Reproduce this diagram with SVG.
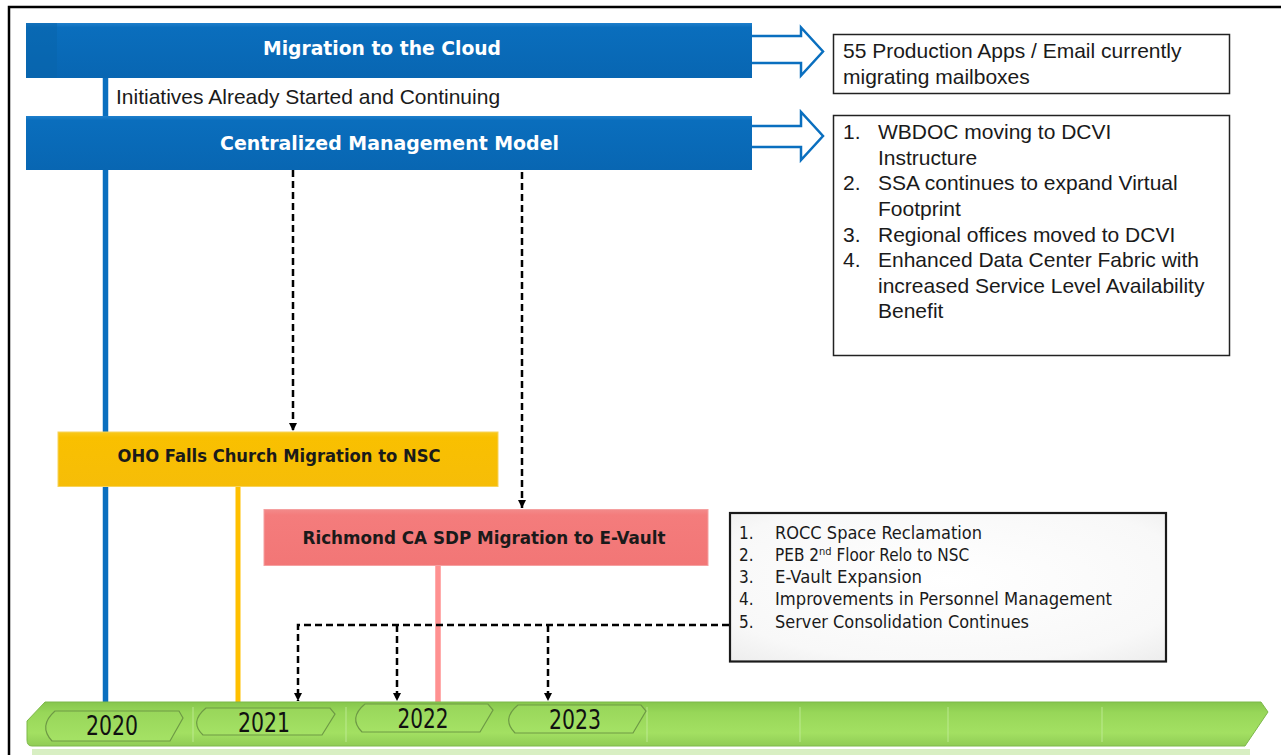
<svg xmlns="http://www.w3.org/2000/svg" width="1281" height="755" viewBox="0 0 1281 755">
<style>
.bartxt{font-family:"DejaVu Sans Condensed","DejaVu Sans",sans-serif;font-weight:bold;fill:#ffffff;font-size:19px;text-anchor:middle}
.boxtxt{font-family:"DejaVu Sans Condensed","DejaVu Sans",sans-serif;font-weight:bold;fill:#1a1a1a;font-size:18px;text-anchor:middle}
.arial{font-family:"Liberation Sans",Arial,sans-serif;font-size:21px;fill:#1a1a1a}
.tah{font-family:"DejaVu Sans Condensed","DejaVu Sans",sans-serif;font-size:17px;fill:#1a1a1a}
.year{font-family:"DejaVu Sans Condensed","DejaVu Sans",sans-serif;font-size:26px;fill:#111111;text-anchor:middle}
.note{fill:#ffffff;stroke:#222222;stroke-width:1.5}
.hollow{fill:#ffffff;stroke:#0A6FBF;stroke-width:2.5;stroke-linejoin:miter}
.dash{fill:none;stroke:#000000;stroke-width:2.5;stroke-dasharray:7,4}
.tab{fill:url(#tabg);stroke:#6E9A45;stroke-width:1.2}
.div{stroke:#C5EE9E;stroke-width:1;opacity:0.8}
</style>
<defs>
<linearGradient id="blueg" x1="0" y1="0" x2="0" y2="1">
<stop offset="0" stop-color="#1E7FCC"/>
<stop offset="0.08" stop-color="#0A6EBD"/>
<stop offset="1" stop-color="#0866B2"/>
</linearGradient>
<linearGradient id="yelg" x1="0" y1="0" x2="0" y2="1">
<stop offset="0" stop-color="#F8C81C"/>
<stop offset="0.1" stop-color="#F9C000"/>
<stop offset="1" stop-color="#F6BD08"/>
</linearGradient>
<linearGradient id="pinkg" x1="0" y1="0" x2="0" y2="1">
<stop offset="0" stop-color="#F38A8A"/>
<stop offset="0.1" stop-color="#F47C7C"/>
<stop offset="1" stop-color="#F27676"/>
</linearGradient>
<linearGradient id="greeng" x1="0" y1="0" x2="0" y2="1">
<stop offset="0" stop-color="#86C64C"/>
<stop offset="0.25" stop-color="#98D759"/>
<stop offset="0.7" stop-color="#A3E062"/>
<stop offset="1" stop-color="#90CC55"/>
</linearGradient>
<linearGradient id="tabg" x1="0" y1="0" x2="0" y2="1">
<stop offset="0" stop-color="#98D65A"/>
<stop offset="1" stop-color="#A5E265"/>
</linearGradient>
<radialGradient id="grayg" cx="0.5" cy="0.45" r="0.75">
<stop offset="0" stop-color="#FFFFFF"/>
<stop offset="0.75" stop-color="#F8F8F8"/>
<stop offset="1" stop-color="#ECECEC"/>
</radialGradient>
<marker id="ah" markerWidth="8" markerHeight="8" refX="8" refY="4" orient="auto" markerUnits="userSpaceOnUse" viewBox="0 0 8 8">
<path d="M0,0 L8,4 L0,8 Z" fill="#000000"/>
</marker>
</defs>

<rect x="0" y="0" width="1281" height="755" fill="#ffffff"/>
<!-- frame -->
<path d="M1281,7 L9,7 L9,755" fill="none" stroke="#000000" stroke-width="2.5"/>

<!-- vertical stems -->
<g id="stems">
<line x1="105.5" y1="78" x2="105.5" y2="116" stroke="#0A6FBF" stroke-width="5.5"/>
<line x1="105.5" y1="169" x2="105.5" y2="703" stroke="#0A6FBF" stroke-width="5.5"/>
<line x1="238" y1="486" x2="238" y2="703" stroke="#FFC000" stroke-width="5"/>
<line x1="438" y1="565" x2="438" y2="703" stroke="#FF9191" stroke-width="5.5"/>
</g>

<!-- timeline bar -->
<g id="timeline">
<rect x="32" y="749" width="1218" height="6" fill="#D8EFC3"/>
<path d="M45,702 L1261,702 L1268,712 L1245,746 L32,746 Q27,746 27,740 L27,721 Z" fill="url(#greeng)" stroke="#7DB84A" stroke-width="1"/>
<line class="div" x1="193" y1="707" x2="193" y2="742"/>
<line class="div" x1="346" y1="707" x2="346" y2="742"/>
<line class="div" x1="647" y1="707" x2="647" y2="742"/>
<line class="div" x1="800" y1="707" x2="800" y2="742"/>
<line class="div" x1="948" y1="707" x2="948" y2="742"/>
<line class="div" x1="1102" y1="707" x2="1102" y2="742"/>
<g id="y2020">
<path class="tab" d="M55,711 L179,711 L183,718 L170,741 L52,741 Q38,726 55,711 Z"/>
<text class="year" x="112" y="735" textLength="52" lengthAdjust="spacingAndGlyphs">2020</text>
</g>
<g id="y2021">
<path class="tab" d="M206,708 L330,708 L335,714 L322,735 L203,735 Q189,722 206,708 Z"/>
<text class="year" x="264" y="731.5" textLength="52" lengthAdjust="spacingAndGlyphs">2021</text>
</g>
<g id="y2022">
<path class="tab" d="M365,704 L488,704 L493,710 L480,732 L362,732 Q348,718 365,704 Z"/>
<text class="year" x="423" y="727.5" textLength="51" lengthAdjust="spacingAndGlyphs">2022</text>
</g>
<g id="y2023">
<path class="tab" d="M518,705 L641,705 L646,711 L633,733 L515,733 Q501,719 518,705 Z"/>
<text class="year" x="575" y="729" textLength="52" lengthAdjust="spacingAndGlyphs">2023</text>
</g>
</g>

<!-- blue bars -->
<g id="cloud">
<rect x="26" y="23" width="726" height="55" fill="url(#blueg)"/>
<rect x="26" y="23" width="31" height="55" fill="#0863AA" opacity="0.5"/>
<text class="bartxt" x="382" y="55" textLength="238" lengthAdjust="spacingAndGlyphs">Migration to the Cloud</text>
</g>
<g id="initiatives">
<text class="arial" x="116" y="104">Initiatives Already Started and Continuing</text>
</g>
<g id="cmm">
<rect x="26" y="116" width="726" height="54" fill="url(#blueg)"/>
<text class="bartxt" x="389.5" y="150" textLength="339" lengthAdjust="spacingAndGlyphs">Centralized Management Model</text>
</g>

<!-- hollow arrows -->
<g id="arrow1">
<path class="hollow" d="M752,36 L801,36 L801,27.5 L823,51.5 L801,75.5 L801,63 L752,63"/>
</g>
<g id="arrow2">
<path class="hollow" d="M752,126 L801,126 L801,112 L823,136 L801,160 L801,147 L752,147"/>
</g>

<!-- note boxes -->
<g id="note1">
<rect class="note" x="833.5" y="34.5" width="396" height="59"/>
<text class="arial" x="843" y="58">55 Production Apps / Email currently</text>
<text class="arial" x="843" y="84">migrating mailboxes</text>
</g>
<g id="note2">
<rect class="note" x="833.5" y="115.5" width="396" height="240"/>
<text class="arial" x="843" y="139">1.</text>
<text class="arial" x="878" y="139">WBDOC moving to DCVI</text>
<text class="arial" x="878" y="165">Instructure</text>
<text class="arial" x="843" y="190">2.</text>
<text class="arial" x="878" y="190">SSA continues to expand Virtual</text>
<text class="arial" x="878" y="216">Footprint</text>
<text class="arial" x="843" y="242">3.</text>
<text class="arial" x="878" y="242">Regional offices moved to DCVI</text>
<text class="arial" x="843" y="267">4.</text>
<text class="arial" x="878" y="267">Enhanced Data Center Fabric with</text>
<text class="arial" x="878" y="293">increased Service Level Availability</text>
<text class="arial" x="878" y="318">Benefit</text>
</g>

<!-- yellow -->
<g id="oho">
<rect x="58" y="432" width="440" height="54.5" fill="url(#yelg)" stroke="#F7D35A" stroke-width="1"/>
<text class="boxtxt" x="279" y="462" textLength="323" lengthAdjust="spacingAndGlyphs">OHO Falls Church Migration to NSC</text>
</g>

<!-- pink -->
<g id="richmond">
<rect x="264" y="509.5" width="444" height="56" fill="url(#pinkg)" stroke="#F5A0A0" stroke-width="1"/>
<text class="boxtxt" x="484" y="543.5" textLength="363" lengthAdjust="spacingAndGlyphs">Richmond CA SDP Migration to E-Vault</text>
</g>

<!-- gray list box -->
<g id="list3">
<rect x="730" y="513" width="436" height="148.5" fill="url(#grayg)" stroke="#1a1a1a" stroke-width="2.2"/>
<text class="tah" x="739" y="538.5">1.</text>
<text class="tah" x="775" y="538.5" textLength="207" lengthAdjust="spacingAndGlyphs">ROCC Space Reclamation</text>
<text class="tah" x="739" y="560.5">2.</text>
<text class="tah" x="775" y="560.5">PEB 2<tspan font-size="11" dy="-6">nd</tspan><tspan dy="6"> Floor Relo to NSC</tspan></text>
<text class="tah" x="739" y="583">3.</text>
<text class="tah" x="775" y="583" textLength="147" lengthAdjust="spacingAndGlyphs">E-Vault Expansion</text>
<text class="tah" x="739" y="605">4.</text>
<text class="tah" x="775" y="605" textLength="337" lengthAdjust="spacingAndGlyphs">Improvements in Personnel Management</text>
<text class="tah" x="739" y="627.5">5.</text>
<text class="tah" x="775" y="627.5" textLength="254" lengthAdjust="spacingAndGlyphs">Server Consolidation Continues</text>
</g>

<!-- connectors -->
<g id="connectors">
<line class="dash" x1="293" y1="170" x2="293" y2="431" marker-end="url(#ah)"/>
<line class="dash" x1="522" y1="172" x2="522" y2="508" marker-end="url(#ah)"/>
<path class="dash" d="M729,625 L298,625 L298,701" marker-end="url(#ah)"/>
<path class="dash" d="M397,625 L397,701" marker-end="url(#ah)"/>
<path class="dash" d="M548,625 L548,701" marker-end="url(#ah)"/>
</g>
</svg>
